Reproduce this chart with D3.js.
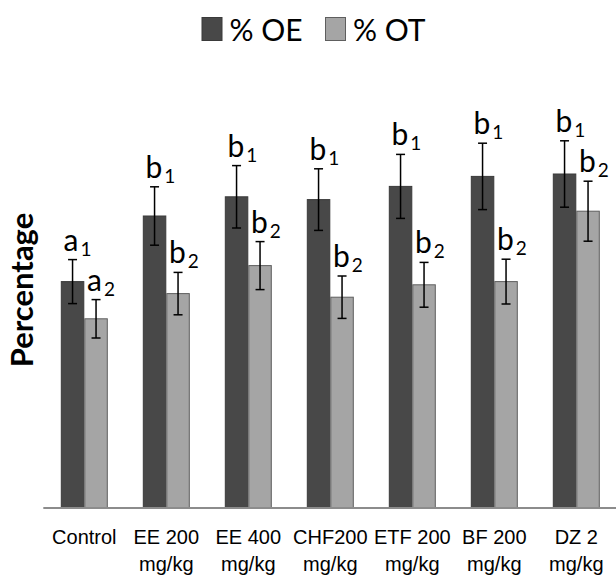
<!DOCTYPE html>
<html>
<head>
<meta charset="utf-8">
<script src="https://cdn.jsdelivr.net/npm/d3@7"></script>
<style>
  body { margin: 0; background: #fff; }
  svg { display: block; font-family: Lato, "Open Sans", sans-serif; }
</style>
</head>
<body>
<div id="chart"></div>
<script>
const categories = [["Control"], ["EE 200", "mg/kg"], ["EE 400", "mg/kg"], ["CHF200", "mg/kg"],
                    ["ETF 200", "mg/kg"], ["BF 200", "mg/kg"], ["DZ 2", "mg/kg"]];
const series     = ["% OE", "% OT"];
const oeValues   = [56.6, 73.0, 77.8, 77.1, 80.4, 82.9, 83.5];
const oeErrors   = [5.5, 7.3, 7.8, 7.7, 8.0, 8.3, 8.3];
const otValues   = [47.3, 53.6, 60.6, 52.7, 55.8, 56.6, 74.2];
const otErrors   = [4.8, 5.3, 6.0, 5.3, 5.6, 5.6, 7.5];
const oeLetters  = ["a", "b", "b", "b", "b", "b", "b"];
const otLetters  = ["a", "b", "b", "b", "b", "b", "b"];
const subscripts = ["1", "2"];

const width  = 616;
const height = 577;
const colors = ["#484848", "#a5a5a5"];
const strokes = ["#3a3a3a", "#5e5e5e"];

const rows = categories.map((c, i) => ({
  key: i,
  lines: c,
  bars: [
    { s: 0, v: oeValues[i], e: oeErrors[i], l: oeLetters[i] },
    { s: 1, v: otValues[i], e: otErrors[i], l: otLetters[i] }
  ]
}));

const svg = d3.select("#chart").append("svg")
  .attr("width", width)
  .attr("height", height);

const x0 = d3.scaleBand()
  .domain(rows.map(d => d.key))
  .range([43.3, 617.3])
  .paddingInner(0.427)
  .paddingOuter(0.2135);

const x1 = d3.scaleBand()
  .domain([0, 1])
  .range([0, x0.bandwidth()]);

const y = d3.scaleLinear()
  .domain([0, 100])
  .range([508, 108]);

// bars
const groups = svg.append("g").selectAll("g")
  .data(rows)
  .join("g")
  .attr("transform", d => "translate(" + x0(d.key) + ",0)");

groups.selectAll("rect")
  .data(d => d.bars)
  .join("rect")
  .attr("x", d => x1(d.s) + 0.5)
  .attr("y", d => y(d.v))
  .attr("width", x1.bandwidth() - 1)
  .attr("height", d => y(0) - y(d.v))
  .attr("fill", d => colors[d.s])
  .attr("stroke", d => strokes[d.s])
  .attr("stroke-width", 1);

// error bars
const eb = groups.selectAll("g.err")
  .data(d => d.bars)
  .join("g")
  .attr("class", "err")
  .attr("stroke", "#000")
  .attr("stroke-width", 1.5);

const cx = d => x1(d.s) + x1.bandwidth() / 2;
eb.append("line")
  .attr("x1", cx).attr("x2", cx)
  .attr("y1", d => y(d.v + d.e)).attr("y2", d => y(d.v - d.e));
eb.append("line")
  .attr("x1", d => cx(d) - 4.5).attr("x2", d => cx(d) + 4.5)
  .attr("y1", d => y(d.v + d.e)).attr("y2", d => y(d.v + d.e));
eb.append("line")
  .attr("x1", d => cx(d) - 4.5).attr("x2", d => cx(d) + 4.5)
  .attr("y1", d => y(d.v - d.e)).attr("y2", d => y(d.v - d.e));

// significance letters
const lab = groups.selectAll("text.sig")
  .data(d => d.bars)
  .join("text")
  .attr("class", "sig")
  .attr("x", d => cx(d) - 9)
  .attr("y", d => y(d.v + d.e) - 9)
  .attr("font-size", 30)
  .attr("fill", "#000");
lab.append("tspan").text(d => d.l);
lab.append("tspan")
  .attr("font-size", 19)
  .attr("dx", 2)
  .attr("dy", 5)
  .text(d => subscripts[d.s]);

// x axis
const xAxis = svg.append("g")
  .attr("transform", "translate(0," + y(0) + ")")
  .call(d3.axisBottom(x0).tickSize(0).tickPadding(0).tickFormat(""));
xAxis.select(".domain")
  .attr("d", "M43.3,0H616")
  .attr("stroke", "#8c8c8c")
  .attr("stroke-width", 2);

xAxis.selectAll(".tick text").remove();
xAxis.selectAll(".tick").append("text")
  .attr("fill", "#000")
  .attr("font-size", 20)
  .attr("text-anchor", "middle")
  .selectAll("tspan")
  .data(d => categories[d])
  .join("tspan")
  .attr("x", 0)
  .attr("y", (d, i) => 36 + i * 26.5)
  .text(d => d);

// y title
svg.append("text")
  .attr("transform", "translate(33,290) rotate(-90)")
  .attr("text-anchor", "middle")
  .attr("font-size", 31)
  .attr("font-weight", "bold")
  .text("Percentage");

// legend
const legX = [201.5, 325];
const leg = svg.append("g").selectAll("g")
  .data(series)
  .join("g")
  .attr("transform", (d, i) => "translate(" + legX[i] + ",0)");
leg.append("rect")
  .attr("x", 0.5).attr("y", 17.5)
  .attr("width", 20).attr("height", 23)
  .attr("fill", (d, i) => colors[i])
  .attr("stroke", (d, i) => strokes[i]);
leg.append("text")
  .attr("x", 28).attr("y", 41)
  .attr("font-size", 30)
  .text(d => d);
</script>
</body>
</html>
